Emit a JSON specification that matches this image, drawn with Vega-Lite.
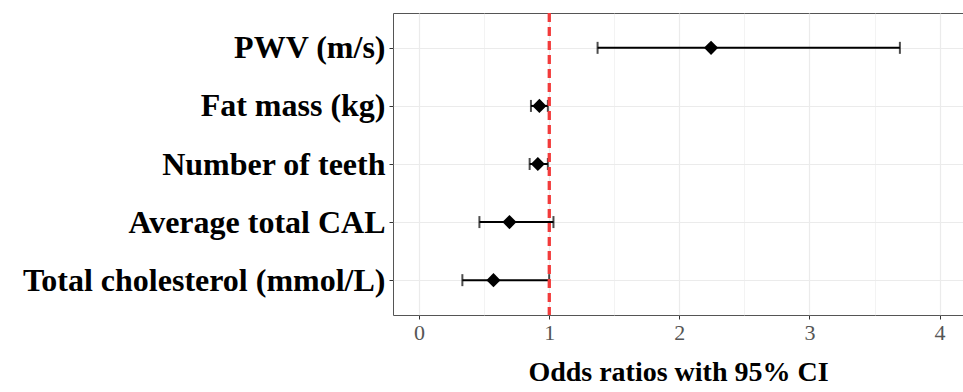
{
  "$schema": "https://vega.github.io/schema/vega-lite/v6.json",
  "autosize": "none",
  "width": 570,
  "height": 302,
  "padding": {"left": 393, "top": 13, "right": 0, "bottom": 77},
  "background": "white",
  "config": {
    "view": {"stroke": "#555555", "strokeWidth": 1},
    "font": "Liberation Serif"
  },
  "data": {
    "values": [
      {"var": "PWV (m/s)", "or": 2.244, "lo": 1.372, "hi": 3.695},
      {"var": "Fat mass (kg)", "or": 0.925, "lo": 0.86, "hi": 0.99},
      {"var": "Number of teeth", "or": 0.913, "lo": 0.85, "hi": 0.99},
      {"var": "Average total CAL", "or": 0.695, "lo": 0.464, "hi": 1.033},
      {"var": "Total cholesterol (mmol/L)", "or": 0.572, "lo": 0.333, "hi": 1.0}
    ]
  },
  "encoding": {
    "y": {
      "field": "var", "type": "nominal", "sort": null,
      "scale": {"type": "point", "padding": 0.6},
      "axis": {
        "title": null, "labelFont": "Liberation Serif", "labelFontWeight": "bold",
        "labelFontSize": 32, "labelColor": "black", "labelPadding": 4, "labelLimit": 0,
        "tickSize": 4, "tickColor": "#333333", "domain": false,
        "grid": true, "gridColor": "#ebebeb", "gridWidth": 1.2
      }
    }
  },
  "layer": [
    {
      "mark": {"type": "rule", "strokeWidth": 2, "color": "black"},
      "encoding": {
        "x": {
          "field": "lo", "type": "quantitative",
          "scale": {"domain": [-0.2, 4.18], "nice": false, "zero": false},
          "axis": {
            "values": [0, 0.5, 1, 1.5, 2, 2.5, 3, 3.5, 4],
            "labelExpr": "datum.value % 1 === 0 ? format(datum.value, 'd') : ''",
            "title": "Odds ratios with 95% CI",
            "titleFont": "Liberation Serif", "titleFontSize": 28, "titleFontWeight": "bold",
            "titleColor": "black", "titlePadding": 15,
            "labelFont": "Liberation Serif", "labelFontSize": 22, "labelColor": "#555555",
            "labelPadding": 3, "labelFlush": false,
            "tickSize": 4, "tickColor": "#333333",
            "tickOpacity": {"condition": {"test": "datum.value % 1 !== 0", "value": 0}, "value": 1},
            "domain": false,
            "grid": true, "gridColor": "#ebebeb",
            "gridWidth": {"condition": {"test": "datum.value % 1 !== 0", "value": 0.6}, "value": 1.2}
          }
        },
        "x2": {"field": "hi"}
      }
    },
    {
      "mark": {"type": "tick", "thickness": 2, "size": 12, "color": "black", "orient": "vertical"},
      "encoding": {"x": {"field": "lo", "type": "quantitative"}}
    },
    {
      "mark": {"type": "tick", "thickness": 2, "size": 12, "color": "black", "orient": "vertical"},
      "encoding": {"x": {"field": "hi", "type": "quantitative"}}
    },
    {
      "mark": {"type": "point", "shape": "diamond", "filled": true, "size": 200, "color": "black", "opacity": 1},
      "encoding": {"x": {"field": "or", "type": "quantitative"}}
    },
    {
      "mark": {"type": "rule", "color": "#f23b3b", "strokeWidth": 2.5, "strokeDash": [9, 5]},
      "encoding": {"x": {"datum": 1, "type": "quantitative"}, "y": {"value": 0}, "y2": {"value": 302}}
    }
  ]
}
